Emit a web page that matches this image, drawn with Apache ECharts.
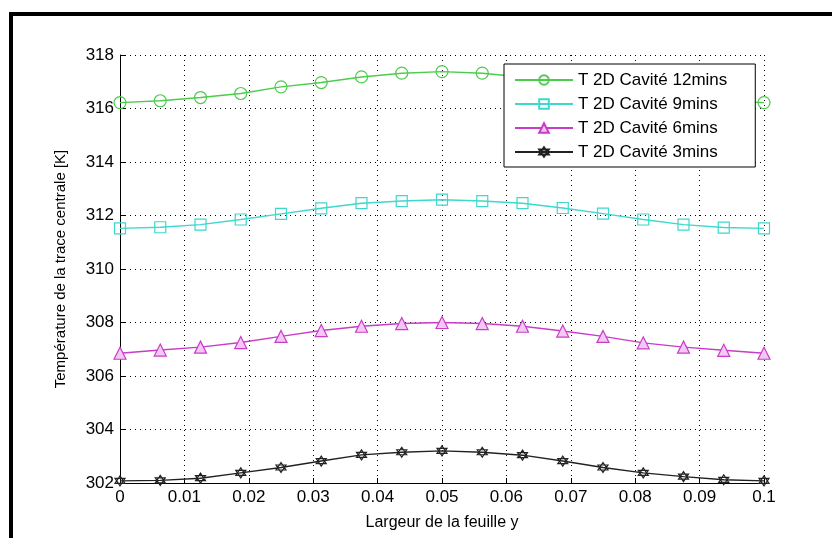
<!DOCTYPE html>
<html>
<head>
<meta charset="utf-8">
<script src="https://cdn.jsdelivr.net/npm/echarts@6/dist/echarts.min.js"></script>
<style>
  html, body { margin: 0; padding: 0; background: #fff; }
  #chart { width: 832px; height: 538px; }
</style>
</head>
<body>
<div id="chart"></div>
<script>
// positions along the sheet width (m)
const largeur = [0, 0.00625, 0.0125, 0.01875, 0.025, 0.03125, 0.0375, 0.04375, 0.05,
  0.05625, 0.0625, 0.06875, 0.075, 0.08125, 0.0875, 0.09375, 0.1];

// temperatures (K)
const t12 = [316.22, 316.29, 316.41, 316.56, 316.81, 316.97, 317.18, 317.32, 317.38,
  317.32, 317.18, 316.97, 316.81, 316.56, 316.41, 316.29, 316.22];
const t9 = [311.52, 311.56, 311.66, 311.85, 312.06, 312.27, 312.46, 312.54, 312.59,
  312.54, 312.46, 312.28, 312.07, 311.85, 311.66, 311.55, 311.52];
const t6 = [306.85, 306.97, 307.08, 307.25, 307.48, 307.7, 307.86, 307.96, 308.0,
  307.96, 307.86, 307.68, 307.48, 307.24, 307.08, 306.96, 306.85];
const t3 = [302.08, 302.1, 302.18, 302.38, 302.58, 302.82, 303.05, 303.15, 303.2,
  303.15, 303.04, 302.82, 302.58, 302.38, 302.24, 302.12, 302.08];

const seriesNames = ["T 2D Cavité 12mins", "T 2D Cavité 9mins", "T 2D Cavité 6mins", "T 2D Cavité 3mins"];

const hexagram = "path://M0,-10L8.66,5L-8.66,5ZM0,10L8.66,-5L-8.66,-5Z";

const pair = (ys) => largeur.map((x, i) => [x, ys[i]]);

function mkSeries(name, ys, color, symbol, size, fill) {
  return {
    name: name,
    type: "line",
    data: pair(ys),
    symbol: symbol,
    symbolSize: size,
    showAllSymbol: true,
    lineStyle: { color: color, width: 1.4 },
    itemStyle: { color: fill, borderColor: color, borderWidth: 1.2 },
    emphasis: { disabled: true },
    animation: false,
  };
}

const series = [
  mkSeries(seriesNames[0], t12, "#4ccc4c", "circle", 12, "rgba(0,0,0,0)"),
  mkSeries(seriesNames[1], t9, "#3ed8cc", "rect", 11, "rgba(0,0,0,0)"),
  mkSeries(seriesNames[2], t6, "#c83cc8", "triangle", 12, "#f4c8f4"),
  mkSeries(seriesNames[3], t3, "#222222", hexagram, 10, "rgba(0,0,0,0)"),
];

const chart = echarts.init(document.getElementById("chart"), null, { renderer: "canvas" });

const font = "'Liberation Sans', Arial, sans-serif";

const option = {
  backgroundColor: "#fff",
  animation: false,
  grid: { left: 120, right: 68, top: 55, bottom: 55 },
  legend: {
    data: seriesNames,
    orient: "vertical",
    left: 504,
    top: 64,
    itemWidth: 58,
    itemHeight: 12,
    itemGap: 4,
    padding: [6, 28, 5, 10],
    backgroundColor: "#fff",
    borderColor: "#000",
    borderWidth: 1,
    borderRadius: 0,
    textStyle: { fontFamily: font, fontSize: 17, color: "#000", lineHeight: 20 },
  },
  xAxis: {
    type: "value",
    min: 0,
    max: 0.1,
    interval: 0.01,
    name: "Largeur de la feuille y",
    nameLocation: "middle",
    nameGap: 32,
    nameTextStyle: { fontFamily: font, fontSize: 16, color: "#000" },
    axisLine: { onZero: false, lineStyle: { color: "#000", width: 1 } },
    axisTick: { inside: true, length: 5, lineStyle: { color: "#000" } },
    axisLabel: {
      fontFamily: font, fontSize: 17, color: "#000", margin: 6,
      formatter: (v) => String(+v.toFixed(2)),
    },
    splitLine: { show: true, lineStyle: { color: "#000", type: [1, 4], width: 1 } },
  },
  yAxis: {
    type: "value",
    min: 302,
    max: 318,
    interval: 2,
    name: "Température de la trace centrale [K]",
    nameLocation: "middle",
    nameGap: 52,
    nameTextStyle: { fontFamily: font, fontSize: 15, color: "#000" },
    axisLine: { show: true, lineStyle: { color: "#000", width: 1 } },
    axisTick: { show: true, inside: true, length: 5, lineStyle: { color: "#000" } },
    axisLabel: { fontFamily: font, fontSize: 17, color: "#000", margin: 6 },
    splitLine: { show: true, lineStyle: { color: "#000", type: [1, 4], width: 1 } },
  },
  graphic: [
    {
      type: "rect",
      silent: true,
      z: 100,
      shape: { x: 11, y: 14, width: 840, height: 540 },
      style: { fill: "none", stroke: "#000", lineWidth: 4 },
    },
  ],
  series: series,
};

chart.setOption(option);
</script>
</body>
</html>
